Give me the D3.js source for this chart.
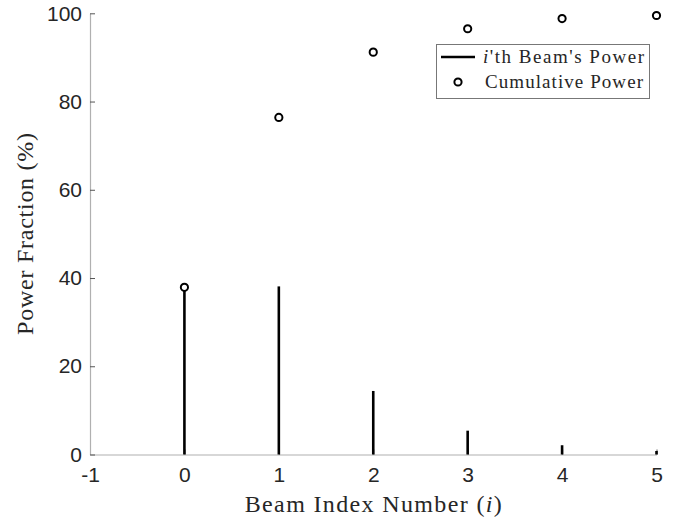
<!DOCTYPE html>
<html>
<head>
<meta charset="utf-8">
<script src="https://cdn.jsdelivr.net/npm/d3@7"></script>
<style>
  body { margin: 0; background: #fff; }
  svg { display: block; }
</style>
</head>
<body>
<svg id="chart" width="676" height="519"></svg>
<script>
// beam index, per-beam power and cumulative power (%)
const beamIndex = [0, 1, 2, 3, 4, 5];
const beamPower = [37.9, 38.1, 14.4, 5.4, 2.1, 0.8];
const cumulativePower = [37.9, 76.4, 91.2, 96.5, 98.8, 99.5];
const xTicks = [-1, 0, 1, 2, 3, 4, 5];
const yTicks = [0, 20, 40, 60, 80, 100];

const svg = d3.select("#chart");
const margins = { top: 13, right: 20, bottom: 64, left: 90 };

const xScale = d3.scaleLinear().domain([-1, 5]).range([margins.left, 656.5]);
const yScale = d3.scaleLinear().domain([0, 100]).range([454.5, margins.top + 0.3]);

const axisColor = "#b0b0b0";
const textColor = "#262626";

// axes
const xAxis = svg.append("g")
    .attr("transform", "translate(0," + yScale(0) + ")")
    .call(d3.axisBottom(xScale).tickValues(xTicks).tickFormat(d => String(d))
        .tickSizeInner(-5).tickSizeOuter(0).tickPadding(13));
const yAxis = svg.append("g")
    .attr("transform", "translate(" + xScale(-1) + ",0)")
    .call(d3.axisLeft(yScale).tickValues(yTicks).tickFormat(d => String(d))
        .tickSizeInner(-5).tickSizeOuter(0).tickPadding(8));

[xAxis, yAxis].forEach(function (ax) {
    ax.select(".domain").attr("stroke", axisColor).attr("stroke-width", 1.2);
    ax.selectAll(".tick line").attr("stroke", "#555").attr("stroke-width", 1);
    ax.selectAll(".tick text")
        .attr("fill", textColor)
        .style("font-family", "Liberation Sans, Arial, sans-serif")
        .style("font-size", "21px");
});

// stems
svg.append("g").selectAll("line")
    .data(beamIndex)
    .join("line")
    .attr("x1", d => xScale(d))
    .attr("x2", d => xScale(d))
    .attr("y1", yScale(0))
    .attr("y2", (d, i) => yScale(beamPower[i]))
    .attr("stroke", "#000")
    .attr("stroke-width", 2.6);

// cumulative markers
svg.append("g").selectAll("circle")
    .data(beamIndex)
    .join("circle")
    .attr("cx", d => xScale(d))
    .attr("cy", (d, i) => yScale(cumulativePower[i]))
    .attr("r", 3.6)
    .attr("fill", "#fff")
    .attr("stroke", "#000")
    .attr("stroke-width", 2);

// axis labels
const serif = "Liberation Serif, 'Times New Roman', serif";
const xLabel = svg.append("text")
    .attr("x", (xScale(-1) + xScale(5)) / 2)
    .attr("y", 512)
    .attr("text-anchor", "middle")
    .attr("textLength", 257)
    .attr("lengthAdjust", "spacing")
    .attr("fill", textColor)
    .style("font-family", serif)
    .style("font-size", "24px");
xLabel.append("tspan").text("Beam Index Number (");
xLabel.append("tspan").style("font-style", "italic").text("i");
xLabel.append("tspan").text(")");

svg.append("text")
    .attr("transform", "translate(33," + (yScale(50)) + ") rotate(-90)")
    .attr("text-anchor", "middle")
    .attr("textLength", 202)
    .attr("lengthAdjust", "spacing")
    .attr("fill", textColor)
    .style("font-family", serif)
    .style("font-size", "24px")
    .text("Power Fraction (%)");

// legend
const legend = svg.append("g");
legend.append("rect")
    .attr("x", 436.5).attr("y", 44.5)
    .attr("width", 213).attr("height", 54)
    .attr("fill", "#fff")
    .attr("stroke", "#777")
    .attr("stroke-width", 1);
legend.append("line")
    .attr("x1", 441).attr("x2", 475)
    .attr("y1", 57).attr("y2", 57)
    .attr("stroke", "#000").attr("stroke-width", 2.6);
legend.append("circle")
    .attr("cx", 458).attr("cy", 82).attr("r", 3.6)
    .attr("fill", "#fff").attr("stroke", "#000").attr("stroke-width", 2);

const l1 = legend.append("text")
    .attr("x", 483).attr("y", 63)
    .attr("textLength", 161)
    .attr("lengthAdjust", "spacing")
    .attr("fill", textColor)
    .style("font-family", serif)
    .style("font-size", "19px");
l1.append("tspan").style("font-style", "italic").text("i");
l1.append("tspan").text("'th Beam's Power");
legend.append("text")
    .attr("x", 485).attr("y", 88)
    .attr("textLength", 158)
    .attr("lengthAdjust", "spacing")
    .attr("fill", textColor)
    .style("font-family", serif)
    .style("font-size", "19px")
    .text("Cumulative Power");
</script>
</body>
</html>
